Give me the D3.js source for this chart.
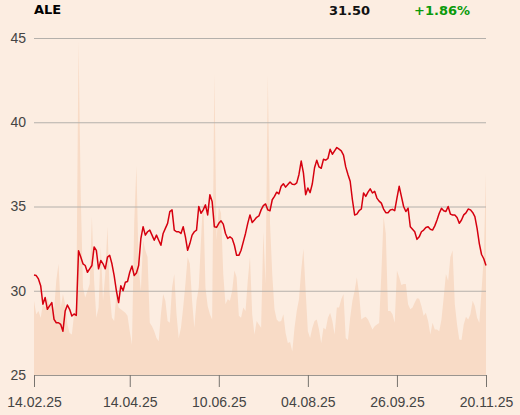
<!DOCTYPE html>
<html>
<head>
<meta charset="utf-8">
<script src="https://cdn.jsdelivr.net/npm/d3@7"></script>
<style>
  body { margin: 0; background: #fcede1; }
  svg { display: block; font-family: "DejaVu Sans", sans-serif; }
</style>
</head>
<body>
<div id="chart"></div>
<script>
const symbol = "ALE";
const lastPrice = "31.50";
const change = "+1.86%";

// closing prices, one per trading day
const price = [
  30.93,30.9,30.7,30.3,29.2,29.6,28.9,29.1,29.3,28.3,
  28.1,28.1,28.0,27.6,28.8,29.15,28.9,28.5,28.62,28.54,
  32.38,32.0,31.6,31.5,31.1,31.3,31.5,32.6,32.4,31.3,
  31.8,31.6,31.3,32.0,32.1,31.6,30.9,30.0,29.3,30.3,
  30.0,30.5,30.55,31.1,31.47,30.9,31.05,31.5,33.1,33.8,
  33.3,33.5,
  33.6,33.3,33.0,33.3,33.0,32.7,33.4,33.7,34.0,34.7,
  34.8,33.6,33.5,33.5,33.4,33.8,33.2,32.4,32.8,33.3,
  33.5,33.6,35.0,34.6,34.8,35.1,34.5,35.7,35.3,33.8,
  33.76,34.0,34.15,33.95,33.4,33.1,33.2,33.1,32.7,32.1,
  32.1,32.4,32.9,33.4,34.0,34.5,34.05,34.2,34.36,34.44,
  34.8,
  35.05,35.15,34.8,34.75,35.4,35.6,35.85,35.75,36.2,36.35,
  36.15,36.3,36.45,36.32,36.3,36.4,36.9,37.7,37.0,35.7,
  36.1,35.82,36.35,37.3,37.75,37.35,37.27,37.8,37.75,37.85,
  38.4,38.1,38.3,38.5,38.4,38.3,38.05,37.35,36.9,36.5,
  35.4,34.5,34.55,34.75,34.85,35.8,35.6,35.85,36.05,35.8,
  35.9,35.5,
  35.32,35.2,34.85,34.63,34.63,34.79,34.83,34.75,35.5,36.2,
  35.6,35.0,34.7,34.9,33.8,33.65,33.5,33.05,33.2,33.5,
  33.6,33.75,33.8,33.65,33.6,33.85,34.2,34.6,34.89,34.75,
  34.7,35.0,34.55,34.5,34.5,34.35,34.0,34.2,34.5,34.62,
  34.85,34.8,34.65,34.4,33.7,32.8,32.15,31.9,31.5
];

// traded volume, relative units (0-100)
const volume = [
  22,18,19,17,21,20,23,20,22,19,
  28,33,20,24,21,15,12.5,12,18,20,
  99,53,26,23,25,27,47,28,17,20,
  38,22,30,44,24,17,16,24,20,19.5,
  19,18.5,17.6,13,9,45,62,32,25,40,
  37,35,
  15.5,14.5,13,11,10,18,24,22,16,15.5,
  26,30,18,11,14,20,27,35,33,22,
  14,22,26,40,53,26,20.5,18,16.5,89.5,
  40,50,48,30,21,22.5,22,25,31,29,
  17.6,17,20,19,28,35,18,12,16,15,
  14,
  42.5,27,89,45,30,19.5,16.5,15.8,16,18,
  12.5,9.5,9.8,7,14,19,22.5,31,37.5,25,
  13,11,14,16,16.5,13.5,9.4,14,13.5,17,
  18.5,16,12,20,20,22.5,24,11,10.4,17,
  22,25,29,24,16.5,17,17.3,16.5,15,13.5,
  14.5,15,
  15.4,30,47,42,19,19,18,15.5,31,29,
  26.7,27,27,21,19.5,20,21.5,22.8,22.6,20.5,
  17.6,18.5,16,12,15.5,13.5,13.5,13,16.5,23,
  30,28,35,37,21,15,10.5,10.4,15,17.3,
  16.5,18,22,20.5,17,15.5,25,35,60
];

const tickIndex = [0, 43, 83, 123, 163, 203];
const tickLabels = ["14.02.25", "14.04.25", "10.06.25", "04.08.25", "26.09.25", "20.11.25"];
const yTicks = [25, 30, 35, 40, 45];

const width = 520, height = 415;
const margin = { left: 34, right: 34, top: 38, bottom: 40 };
const graphWidth = width - margin.left - margin.right;
const graphHeight = height - margin.top - margin.bottom;

const svg = d3.select("#chart").append("svg")
  .attr("width", width)
  .attr("height", height);

svg.append("rect").attr("width", width).attr("height", height).attr("fill", "#fcede1");

const graph = svg.append("g")
  .attr("transform", `translate(${margin.left}, ${margin.top})`);

const x = d3.scaleLinear().domain([0, price.length - 1]).range([0, graphWidth]);
const y = d3.scaleLinear().domain([25, 45]).range([graphHeight, 0]);
const yVol = d3.scaleLinear().domain([0, 100]).range([graphHeight, 0]);

// volume area in the back
const area = d3.area()
  .x((d, i) => x(i))
  .y0(graphHeight)
  .y1(d => yVol(d));

graph.append("path")
  .datum(volume)
  .attr("fill", "#f8dbc6")
  .attr("d", area);

// gridlines + labels
const yAxis = d3.axisLeft(y).tickValues(yTicks).tickSize(-graphWidth).tickPadding(8);
const yAxisGroup = graph.append("g").call(yAxis);
yAxisGroup.select(".domain").remove();
yAxisGroup.selectAll("line").attr("stroke", "#b4b0ab");
yAxisGroup.selectAll("text").attr("fill", "#444").style("font-size", "14px");

// price line
const line = d3.line()
  .x((d, i) => x(i))
  .y(d => y(d));

graph.append("path")
  .datum(price)
  .attr("fill", "none")
  .attr("stroke", "#d6000f")
  .attr("stroke-width", 1.5)
  .attr("stroke-linejoin", "round")
  .attr("d", line);

const xAxis = d3.axisBottom(x)
  .tickValues(tickIndex)
  .tickFormat((d, i) => tickLabels[i])
  .tickSize(12)
  .tickSizeOuter(0)
  .tickPadding(10);

const xAxisGroup = graph.append("g")
  .attr("transform", `translate(0, ${graphHeight})`)
  .call(xAxis);
xAxisGroup.select(".domain").attr("stroke", "#9a958f");
xAxisGroup.selectAll("line").attr("stroke", "#77736e");
xAxisGroup.selectAll("text").attr("fill", "#444").style("font-size", "14px");

// header
svg.append("text")
  .attr("x", 34).attr("y", 14)
  .style("font-size", "13px").style("font-weight", "bold")
  .attr("fill", "#000")
  .text(symbol);

svg.append("text")
  .attr("x", 370).attr("y", 15)
  .attr("text-anchor", "end")
  .style("font-size", "13px").style("font-weight", "bold")
  .attr("fill", "#111")
  .text(lastPrice);

svg.append("text")
  .attr("x", 470).attr("y", 15)
  .attr("text-anchor", "end")
  .style("font-size", "13px").style("font-weight", "bold")
  .attr("fill", "#0a9a0a")
  .text(change);
</script>
</body>
</html>
